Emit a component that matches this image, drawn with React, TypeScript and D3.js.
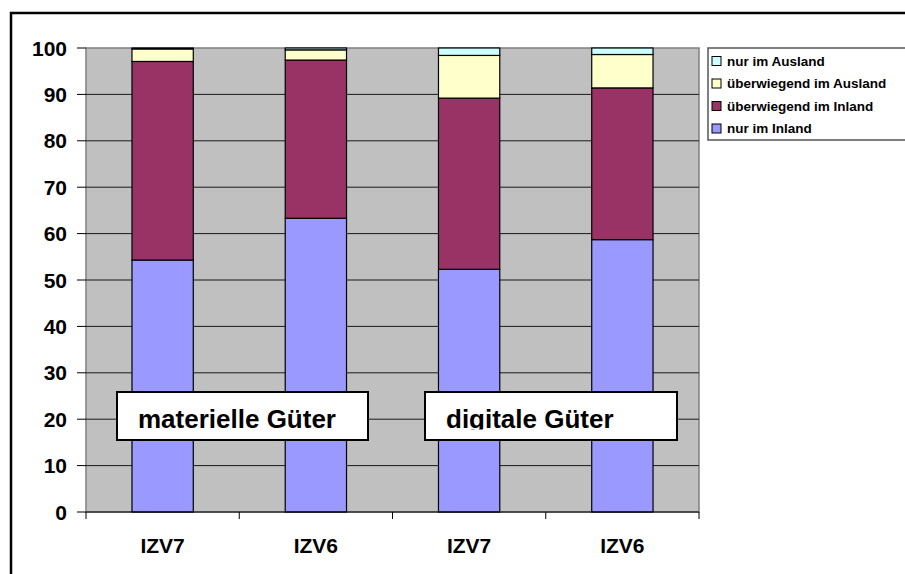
import { useEffect, useRef } from 'react';
import * as d3 from 'd3';

// categories and series (percent shares)
const categories = ['IZV7', 'IZV6', 'IZV7', 'IZV6'];
const seriesNames = ['nur im Inland', 'überwiegend im Inland', 'überwiegend im Ausland', 'nur im Ausland'];
const nurInland = [54.3, 63.3, 52.3, 58.7];
const ueberwInland = [42.8, 34.1, 36.9, 32.7];
const ueberwAusland = [2.7, 2.2, 9.2, 7.2];
const nurAusland = [0.2, 0.4, 1.6, 1.4];
const seriesColors = ['#9999FF', '#993366', '#FFFFCC', '#CCFFFF'];
const yTicks = [0, 10, 20, 30, 40, 50, 60, 70, 80, 90, 100];
const groupLabels = ['materielle Güter', 'digitale Güter'];

const W = 905;
const H = 574;
const FONT = '"Liberation Sans", Arial, sans-serif';

const buildChart = (el: SVGSVGElement) => {
  const svg = d3.select(el);
  svg.selectAll('*').remove();

  const plot = { left: 86, right: 699, top: 48, bottom: 512 };

  const x = d3.scaleBand<number>()
    .domain(categories.map((_, i) => i))
    .range([plot.left, plot.right])
    .paddingInner(0.6)
    .paddingOuter(0.3);

  const y = d3.scaleLinear().domain([0, 100]).range([plot.bottom, plot.top]);

  // outer chart frame (runs off the right and bottom of the picture)
  svg.append('rect')
    .attr('x', 11).attr('y', 13)
    .attr('width', W + 20).attr('height', H + 20)
    .attr('fill', 'white')
    .attr('stroke', 'black')
    .attr('stroke-width', 2.5);

  // plot area
  svg.append('rect')
    .attr('x', plot.left).attr('y', plot.top)
    .attr('width', plot.right - plot.left).attr('height', plot.bottom - plot.top)
    .attr('fill', '#C0C0C0')
    .attr('stroke', '#808080')
    .attr('stroke-width', 1.5);

  // gridlines
  svg.append('g')
    .selectAll('line')
    .data(yTicks.filter(t => t > 0 && t < 100))
    .enter()
    .append('line')
    .attr('x1', plot.left).attr('x2', plot.right)
    .attr('y1', d => y(d)).attr('y2', d => y(d))
    .attr('stroke', '#1a1a1a')
    .attr('stroke-width', 1);

  // stacked bars
  const rows = categories.map((c, i) => ({
    i,
    [seriesNames[0]]: nurInland[i],
    [seriesNames[1]]: ueberwInland[i],
    [seriesNames[2]]: ueberwAusland[i],
    [seriesNames[3]]: nurAusland[i],
  }));
  const stack = d3.stack<any>().keys(seriesNames)(rows);

  svg.append('g')
    .selectAll('g')
    .data(stack)
    .enter()
    .append('g')
    .attr('fill', (d, i) => seriesColors[i])
    .selectAll('rect')
    .data(d => d)
    .enter()
    .append('rect')
    .attr('x', d => x(d.data.i)!)
    .attr('width', x.bandwidth())
    .attr('y', d => y(d[1]))
    .attr('height', d => y(d[0]) - y(d[1]))
    .attr('stroke', 'black')
    .attr('stroke-width', 1.2);

  // y axis ticks + labels
  const yAxis = svg.append('g');
  yAxis.selectAll('line')
    .data(yTicks)
    .enter()
    .append('line')
    .attr('x1', plot.left - 9).attr('x2', plot.left)
    .attr('y1', d => y(d)).attr('y2', d => y(d))
    .attr('stroke', 'black');
  yAxis.selectAll('text')
    .data(yTicks)
    .enter()
    .append('text')
    .attr('x', 67)
    .attr('y', d => y(d))
    .attr('dy', '0.36em')
    .attr('text-anchor', 'end')
    .attr('font-family', FONT)
    .attr('font-weight', 'bold')
    .attr('font-size', 21)
    .text(d => d);

  // x axis
  const xAxis = svg.append('g');
  xAxis.append('line')
    .attr('x1', plot.left).attr('x2', plot.right)
    .attr('y1', plot.bottom).attr('y2', plot.bottom)
    .attr('stroke', 'black');
  const step = x.step();
  const edges = d3.range(categories.length + 1).map(k => plot.left + k * step);
  xAxis.selectAll('line.tick')
    .data(edges)
    .enter()
    .append('line')
    .attr('class', 'tick')
    .attr('x1', d => d).attr('x2', d => d)
    .attr('y1', plot.bottom).attr('y2', plot.bottom + 7)
    .attr('stroke', 'black');
  xAxis.selectAll('text')
    .data(categories)
    .enter()
    .append('text')
    .attr('x', (d, i) => x(i)! + x.bandwidth() / 2)
    .attr('y', 553)
    .attr('text-anchor', 'middle')
    .attr('font-family', FONT)
    .attr('font-weight', 'bold')
    .attr('font-size', 21)
    .text(d => d);

  // group annotation boxes
  const boxes = [
    { label: groupLabels[0], x: 117, w: 251, tx: 138 },
    { label: groupLabels[1], x: 425, w: 252, tx: 446 },
  ];
  const defs = svg.append('defs');
  boxes.forEach((b, k) => {
    defs.append('clipPath')
      .attr('id', `boxclip${k}`)
      .append('rect')
      .attr('x', b.x).attr('y', 392)
      .attr('width', b.w).attr('height', 37.5);
    svg.append('rect')
      .attr('x', b.x).attr('y', 392)
      .attr('width', b.w).attr('height', 48)
      .attr('fill', 'white')
      .attr('stroke', 'black')
      .attr('stroke-width', 2);
    svg.append('text')
      .attr('x', b.tx).attr('y', 428)
      .attr('clip-path', `url(#boxclip${k})`)
      .attr('font-family', FONT)
      .attr('font-weight', 'bold')
      .attr('font-size', 26)
      .text(b.label);
  });

  // legend (reversed order, box runs off the right edge)
  const legend = svg.append('g');
  legend.append('rect')
    .attr('x', 708).attr('y', 48)
    .attr('width', 220).attr('height', 92)
    .attr('fill', 'white')
    .attr('stroke', '#555')
    .attr('stroke-width', 1.5);
  const order = [3, 2, 1, 0];
  order.forEach((s, r) => {
    const cy = 61 + r * 22.5;
    legend.append('rect')
      .attr('x', 712).attr('y', cy - 4.5)
      .attr('width', 9).attr('height', 9)
      .attr('fill', seriesColors[s])
      .attr('stroke', 'black')
      .attr('stroke-width', 1);
    legend.append('text')
      .attr('x', 727).attr('y', cy)
      .attr('dy', '0.36em')
      .attr('font-family', FONT)
      .attr('font-weight', 'bold')
      .attr('font-size', 13.5)
      .text(seriesNames[s]);
  });
};

const App = () => {
  const ref = useRef<SVGSVGElement>(null);

  useEffect(() => {
    if (ref.current) buildChart(ref.current);
  }, []);

  return (
    <svg
      ref={ref}
      width={W}
      height={H}
      style={{ position: 'absolute', left: 0, top: 0, background: 'white' }}
    />
  );
};

export default App;
